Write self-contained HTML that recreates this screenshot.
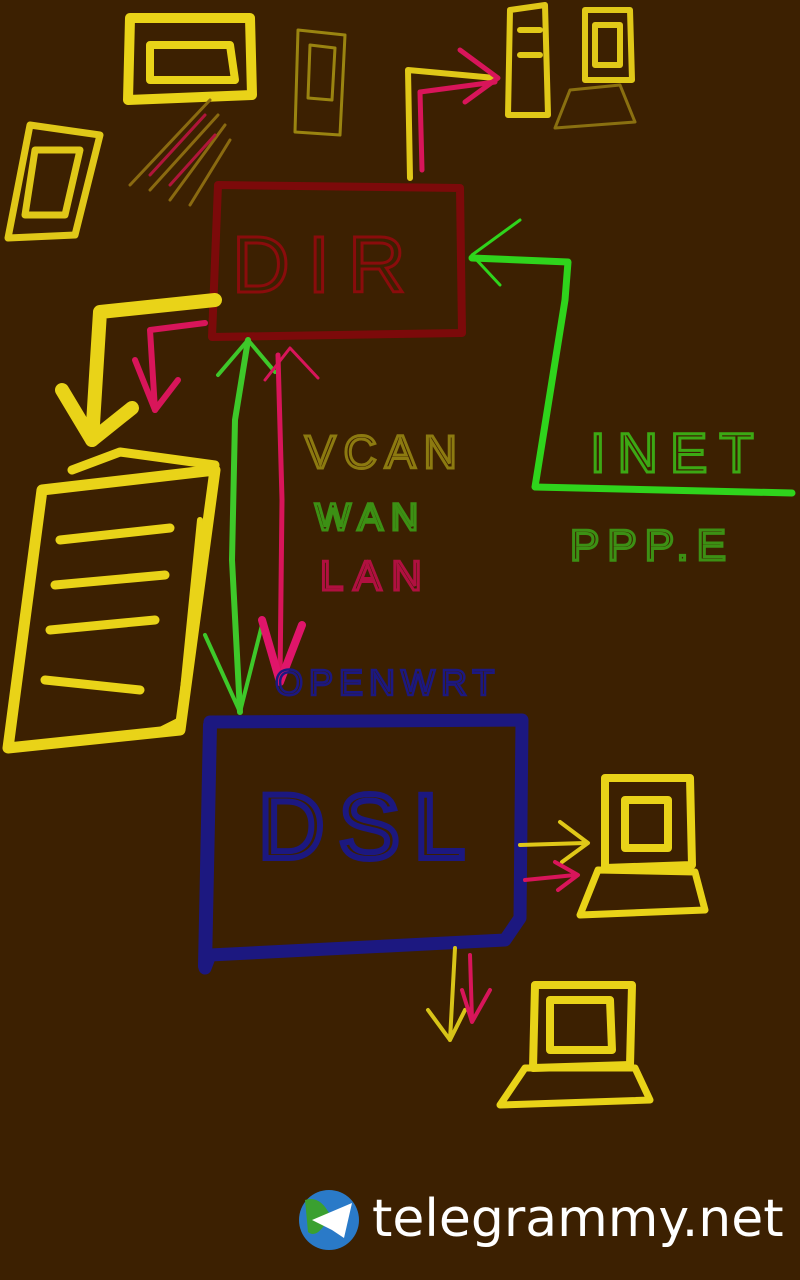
<!DOCTYPE html>
<html><head><meta charset="utf-8"><style>
html,body{margin:0;padding:0;background:#3c2001;}
svg{display:block}
</style></head><body>
<svg width="800" height="1280" viewBox="0 0 800 1280" xmlns="http://www.w3.org/2000/svg">
<rect width="800" height="1280" fill="#3c2001"/>
<g fill="none" stroke-linecap="round" stroke-linejoin="round">
<path d="M218 185 L460 188 L462 333 L212 337 Z" stroke="#7c0a0a" stroke-width="8"/>
<path d="M210 722 L522 720 L520 918 L505 940 L210 955 L205 968 Z" stroke="#1c1880" stroke-width="13"/>
<path d="M205 966 L210 725" stroke="#1c1880" stroke-width="14"/>
<path d="M472 258 L568 262 L565 300 L535 487 L792 493" stroke="#2fd41c" stroke-width="7"/>
<path d="M520 220 L472 255 L500 285" stroke="#2fd41c" stroke-width="3"/>
<path d="M248 340 L235 420 L232 560 L240 712" stroke="#3ec82a" stroke-width="6"/>
<path d="M218 375 L248 340 L275 372" stroke="#3ec82a" stroke-width="4"/>
<path d="M205 635 L240 712 L262 625" stroke="#3ec82a" stroke-width="4"/>
<path d="M278 355 L282 500 L280 680" stroke="#d8155a" stroke-width="5"/>
<path d="M265 380 L290 348 L318 378" stroke="#d8155a" stroke-width="3"/>
<path d="M262 620 L280 682 L302 625" stroke="#e0156a" stroke-width="8"/>
<path d="M215 300 L100 312 L92 440" stroke="#e9d318" stroke-width="14"/>
<path d="M62 390 L92 440 L132 408" stroke="#e9d318" stroke-width="14"/>
<path d="M205 323 L150 330 L155 410" stroke="#d8155a" stroke-width="6"/>
<path d="M135 360 L155 410 L178 380" stroke="#d8155a" stroke-width="6"/>
<path d="M410 178 L408 70 L495 78" stroke="#e0c818" stroke-width="6"/>
<path d="M422 170 L420 92 L495 82" stroke="#d8155a" stroke-width="5"/>
<path d="M460 50 L498 78 L465 102" stroke="#d8155a" stroke-width="5"/>
<path d="M42 490 L215 470 L180 730 L8 748 Z" stroke="#e9d318" stroke-width="11"/>
<path d="M72 470 L120 452 L215 465" stroke="#e9d318" stroke-width="9"/>
<path d="M60 540 L170 528 M55 585 L165 575 M50 630 L155 620 M45 680 L140 690" stroke="#e9d318" stroke-width="9"/>
<path d="M200 520 L180 720 L150 735" stroke="#e9d318" stroke-width="6"/>
<path d="M130 18 L250 18 L252 95 L128 100 Z" stroke="#e9d318" stroke-width="10"/>
<path d="M150 45 L230 45 L235 80 L150 80 Z" stroke="#e9d318" stroke-width="8"/>
<path d="M210 100 L130 185 M218 115 L150 190 M225 125 L170 200 M230 140 L190 205" stroke="#8a6a10" stroke-width="3"/>
<path d="M205 115 L150 175 M215 135 L170 185" stroke="#b0153a" stroke-width="3"/>
<path d="M298 30 L345 35 L340 135 L295 132 Z M310 45 L335 48 L332 100 L308 98 Z" stroke="#9a8410" stroke-width="3"/>
<path d="M30 125 L100 135 L75 235 L8 238 Z M35 150 L80 150 L65 215 L25 215 Z" stroke="#e0c818" stroke-width="7"/>
<path d="M510 10 L545 5 L548 115 L508 115 Z M520 30 L540 30 M520 55 L540 55" stroke="#e0c818" stroke-width="6"/>
<path d="M585 10 L630 10 L632 80 L585 80 Z M595 25 L620 25 L620 65 L595 65 Z" stroke="#e0c818" stroke-width="6"/>
<path d="M570 90 L620 85 L635 122 L555 128 Z" stroke="#8a7010" stroke-width="3"/>
<path d="M605 778 L690 778 L692 865 L605 868 Z M625 800 L668 800 L668 848 L625 848 Z" stroke="#e9d318" stroke-width="8"/>
<path d="M598 870 L695 872 L705 910 L580 915 Z" stroke="#e9d318" stroke-width="7"/>
<path d="M520 845 L585 843 M560 822 L588 843 L562 862" stroke="#e0c818" stroke-width="4"/>
<path d="M525 880 L575 875 M555 862 L578 875 L558 890" stroke="#d8155a" stroke-width="4"/>
<path d="M535 985 L632 985 L630 1065 L533 1068 Z M550 1000 L610 1000 L612 1050 L550 1050 Z" stroke="#e9d318" stroke-width="8"/>
<path d="M525 1068 L635 1068 L650 1100 L500 1105 Z" stroke="#e9d318" stroke-width="7"/>
<path d="M455 948 L450 1040 M428 1010 L450 1040 L465 1010" stroke="#d8c418" stroke-width="4"/>
<path d="M470 955 L472 1020 M462 990 L472 1022 L490 990" stroke="#d8155a" stroke-width="4"/>
</g>
<g font-family="Liberation Sans, sans-serif" font-weight="300">
<text x="232" y="292" font-size="80" fill="none" stroke="#8a0c0c" stroke-width="3" letter-spacing="18">DIR</text>
<text x="258" y="858" font-size="92" fill="none" stroke="#1c1880" stroke-width="6" letter-spacing="14">DSL</text>
<text x="305" y="468" font-size="46" fill="none" stroke="#8c7a10" stroke-width="3" letter-spacing="8">VCAN</text>
<text x="315" y="530" font-size="38" fill="none" stroke="#3c9014" stroke-width="3" letter-spacing="8">WAN</text>
<text x="320" y="590" font-size="42" fill="none" stroke="#b01040" stroke-width="3" letter-spacing="10">LAN</text>
<text x="275" y="695" font-size="36" fill="none" stroke="#1c1880" stroke-width="2.5" letter-spacing="6">OPENWRT</text>
<text x="590" y="472" font-size="56" fill="none" stroke="#3ca814" stroke-width="3" letter-spacing="12">INET</text>
<text x="570" y="560" font-size="44" fill="none" stroke="#3c9014" stroke-width="3" letter-spacing="8">PPP.E</text>
</g>
<circle cx="329" cy="1220" r="30" fill="#2a7ac8"/>
<path d="M305 1200 Q320 1195 330 1215 Q318 1240 308 1232 Z" fill="#3aa030"/>
<path d="M312 1220 L352 1203 L344 1238 L332 1230 Z" fill="#ffffff"/>
<text x="372" y="1236" font-family="DejaVu Sans, Liberation Sans, sans-serif" font-size="52" fill="#ffffff">telegrammy.net</text>
</svg>
</body></html>
